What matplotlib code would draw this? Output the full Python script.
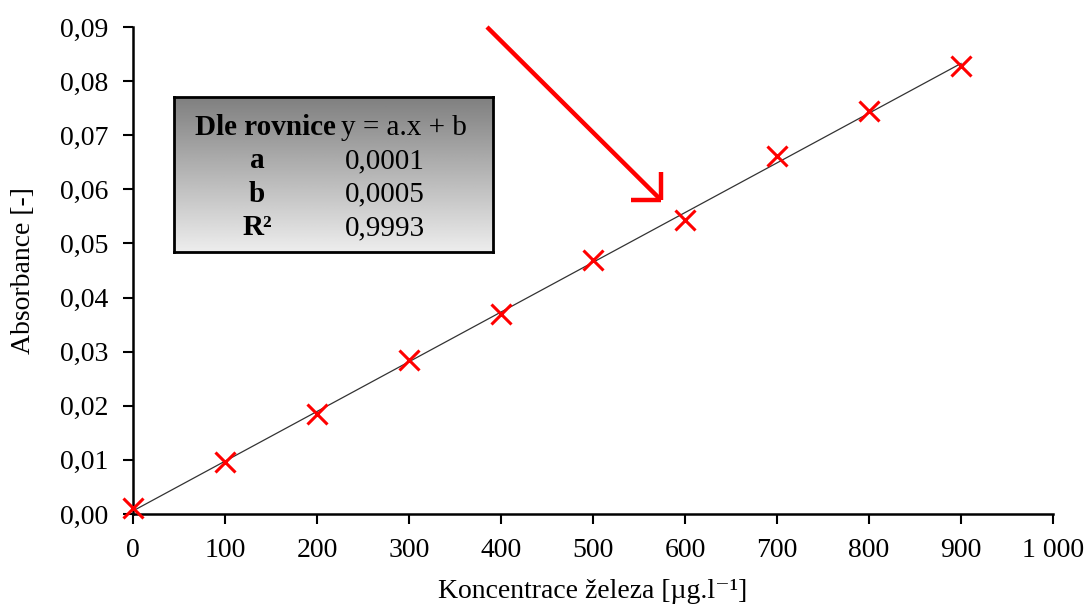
import numpy as np
import matplotlib
matplotlib.use("Agg")
import matplotlib.pyplot as plt
from matplotlib.lines import Line2D

# calibration points
konc = [0, 100, 200, 300, 400, 500, 600, 700, 800, 900]
absorb = [0.0011, 0.0096, 0.0184, 0.0284, 0.0369, 0.0470, 0.0544, 0.0662, 0.0744, 0.0828]

x_ticks = [0, 100, 200, 300, 400, 500, 600, 700, 800, 900, 1000]
x_labels = ["0", "100", "200", "300", "400", "500", "600", "700", "800", "900", "1 000"]
y_ticks = [0.00, 0.01, 0.02, 0.03, 0.04, 0.05, 0.06, 0.07, 0.08, 0.09]
y_labels = ["0,00", "0,01", "0,02", "0,03", "0,04", "0,05", "0,06", "0,07", "0,08", "0,09"]

box_rows = [("a", "0,0001"), ("b", "0,0005"), ("R²", "0,9993")]

plt.rcParams["font.family"] = ["Liberation Serif", "DejaVu Serif"]

W, H = 1088, 606
fig = plt.figure(figsize=(W / 100, H / 100), dpi=100)

def fx(px):
    return px / W

def fy(py):
    return 1 - py / H

ax = fig.add_axes([fx(133), fy(514), fx(1053) - fx(133), fy(27) - fy(514)])

# linear trend line through the points
k, q = np.polyfit(konc, absorb, 1)
xs = np.array([konc[0], konc[-1]])
ax.plot(xs, k * xs + q, color="#333333", lw=0.9, zorder=2)
ax.plot(konc, absorb, ls="none", marker="x", ms=15, mew=2.2, color="red", zorder=3, clip_on=False)

ax.set_xlim(0, 1000)
ax.set_ylim(0, 0.09)
ax.set_xticks(x_ticks)
ax.set_xticklabels(x_labels)
ax.set_yticks(y_ticks)
ax.set_yticklabels(y_labels)
ax.tick_params(direction="out", length=7, width=1.5, labelsize=20)
ax.tick_params(axis="y", pad=11)
ax.tick_params(axis="x", pad=10)
for side in ["top", "right"]:
    ax.spines[side].set_visible(False)
for side in ["left", "bottom"]:
    ax.spines[side].set_linewidth(1.8)

ax.set_xlabel("Koncentrace železa [µg.l⁻¹]", fontsize=20, labelpad=12)
ax.set_ylabel("Absorbance [-]", fontsize=20, labelpad=17)

# grey gradient box with the regression equation
bax = fig.add_axes([fx(174), fy(252), fx(493) - fx(174), fy(97) - fy(252)])
grad = np.linspace(0.5, 0.93, 256).reshape(-1, 1)
bax.imshow(grad, aspect="auto", cmap="gray", vmin=0, vmax=1, extent=[0, 1, 0, 1], origin="upper")
bax.set_xticks([])
bax.set_yticks([])
for s in bax.spines.values():
    s.set_linewidth(2)
    s.set_color("black")

fig.text(fx(336), fy(135), "Dle rovnice", fontsize=21, fontweight="bold", ha="right", va="baseline")
fig.text(fx(341), fy(135), "y = a.x + b", fontsize=21, ha="left", va="baseline")
for i, (lab, val) in enumerate(box_rows):
    yy = fy(168 + i * 33.5)
    fig.text(fx(257), yy, lab, fontsize=21, fontweight="bold", ha="center", va="baseline")
    fig.text(fx(345), yy, val, fontsize=21, ha="left", va="baseline")

# red pointer arrow
tip = (fx(661), fy(200))
arrow_kw = dict(color="red", lw=3.2, transform=fig.transFigure, solid_capstyle="butt")
fig.add_artist(Line2D([fx(487), tip[0]], [fy(27), tip[1]], **arrow_kw))
fig.add_artist(Line2D([tip[0], tip[0]], [fy(172), tip[1]], **arrow_kw))
fig.add_artist(Line2D([fx(631), tip[0]], [tip[1], tip[1]], **arrow_kw))

fig.savefig("out.png", dpi=100)
